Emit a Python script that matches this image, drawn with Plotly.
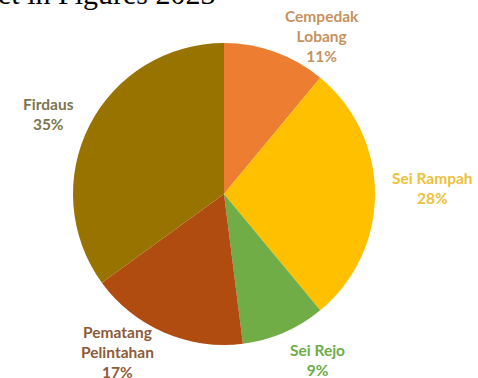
import math
import plotly.graph_objects as go

# Share of each village (percent)
villages = ["Cempedak<br>Lobang", "Sei Rampah", "Sei Rejo", "Pematang<br>Pelintahan", "Firdaus"]
shares = [11, 28, 9, 17, 35]

slice_colors = ["#ED7D31", "#FFC000", "#70AD47", "#B04C10", "#997300"]
label_colors = ["#C6925E", "#EDC13C", "#6CAD48", "#8E5A3A", "#7B7550"]

# Label placement: angular nudge (deg) and radial factor relative to the pie radius
label_nudge = [12, -1.6, -6, 10.6, -2.5]
label_radius = [1.23, 1.38, 1.26, 1.26, 1.28]

W, H = 478, 378
cx, cy, R = 224, 194, 151  # pie centre and radius in pixels

fig = go.Figure(
    go.Pie(
        labels=villages,
        values=shares,
        sort=False,
        direction="clockwise",
        rotation=0,
        textinfo="none",
        hoverinfo="label+percent",
        marker=dict(colors=slice_colors, line=dict(width=0)),
        showlegend=False,
        domain=dict(
            x=[(cx - R) / W, (cx + R) / W],
            y=[1 - (cy + R) / H, 1 - (cy - R) / H],
        ),
    )
)

total = sum(shares)
start = 0.0
for name, val, col, nudge, rf in zip(villages, shares, label_colors, label_nudge, label_radius):
    mid = start + val / total * 360 / 2
    start += val / total * 360
    ang = math.radians(mid + nudge)
    px = cx + rf * R * math.sin(ang)
    py = cy - rf * R * math.cos(ang)
    fig.add_annotation(
        x=px / W,
        y=1 - py / H,
        xref="paper",
        yref="paper",
        text=f"<b>{name}<br>{round(val / total * 100)}%</b>",
        showarrow=False,
        xanchor="center",
        yanchor="middle",
        align="center",
        font=dict(family="Lato, Open Sans, sans-serif", size=15.5, color=col),
    )

# Heading running off the top of the page
fig.add_annotation(
    x=218 / W,
    y=1 - 12 / H,
    xref="paper",
    yref="paper",
    text="et in Figures 2023",
    showarrow=False,
    xanchor="right",
    yanchor="bottom",
    font=dict(family="Liberation Serif, Times New Roman, serif", size=30, color="#000000"),
)

fig.update_layout(
    width=W,
    height=H,
    margin=dict(l=0, r=0, t=0, b=0),
    paper_bgcolor="white",
    plot_bgcolor="white",
)

fig.write_html("out.html")
